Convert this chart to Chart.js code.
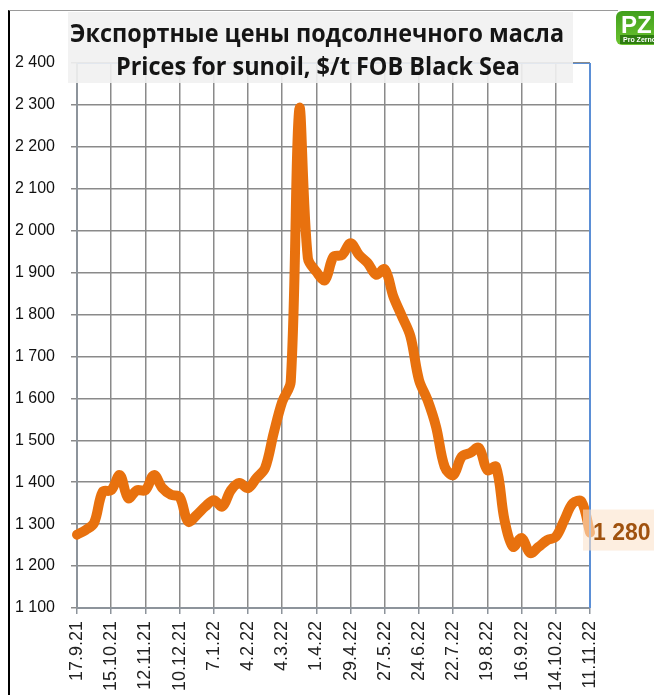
<!DOCTYPE html>
<html>
<head>
<meta charset="utf-8">
<script src="https://cdn.jsdelivr.net/npm/chart.js@4.4.1/dist/chart.umd.min.js"></script>
<style>
  html, body { margin: 0; padding: 0; background: #fff; overflow: hidden; }
  #wrap { position: relative; width: 654px; height: 695px; overflow: hidden; }
  #frame { position: absolute; left: 8px; top: 10px; width: 608px; height: 700px;
           border-top: 1px solid #9a9a9a; border-left: 2px solid #000; }
  canvas { position: absolute; left: 0; top: 0; }
</style>
</head>
<body>
<div id="wrap">
  <div id="frame"></div>
  <canvas id="chart" width="654" height="720"></canvas>
</div>
<script>
// Заголовок
const titleLines = ['Экспортные цены подсолнечного масла', 'Prices for sunoil, $/t FOB Black Sea'];

// подписи оси X (каждые 4 недели)
const tickLabels = ['17.9.21', '15.10.21', '12.11.21', '10.12.21', '7.1.22', '4.2.22', '4.3.22', '1.4.22',
                    '29.4.22', '27.5.22', '24.6.22', '22.7.22', '19.8.22', '16.9.22', '14.10.22', '11.11.22'];

// недельные цены, $/т
const prices = [
    1275, 1286, 1303, 1377, 1381, 1417, 1362, 1381, 1381, 1417,
    1386, 1370, 1365, 1306, 1322, 1342, 1357, 1342, 1381, 1398,
    1386, 1410, 1434, 1517, 1592, 1640, 2290, 1935, 1902, 1882,
    1938, 1942, 1970, 1942, 1923, 1895, 1908, 1843, 1796, 1748,
    1644, 1596, 1532, 1437, 1417, 1461, 1470, 1482, 1429, 1437,
    1310, 1246, 1267, 1231, 1246, 1262, 1270, 1310, 1350, 1354,
    1280
];

const lineColor = '#e8710e';
const gridColor = '#8a8a8a';
const axisColor = '#8d949b';

function fmt(v) {
    return String(v).replace(/\B(?=(\d{3})+(?!\d))/g, ' ');
}

const decor = {
    id: 'decor',
    afterDatasetsDraw(chart) {
        const ctx = chart.ctx;
        const a = chart.chartArea;
        ctx.save();

        // синяя рамка сверху и справа
        ctx.strokeStyle = '#5b8fd6';
        ctx.lineWidth = 1;
        ctx.beginPath();
        ctx.moveTo(a.left, a.top + 0.5);
        ctx.lineTo(a.right, a.top + 0.5);
        ctx.stroke();
        ctx.lineWidth = 2;
        ctx.beginPath();
        ctx.moveTo(a.right, a.top);
        ctx.lineTo(a.right, a.bottom);
        ctx.stroke();

        // подпись последнего значения
        const last = prices[prices.length - 1];
        const yLast = chart.scales.y.getPixelForValue(last);
        ctx.fillStyle = 'rgba(252, 226, 204, 0.6)';
        ctx.fillRect(a.right - 7, yLast - 23, 80, 41);
        ctx.fillStyle = '#a0520f';
        ctx.font = 'bold 23px "Liberation Sans", Arial, sans-serif';
        ctx.textAlign = 'left';
        ctx.textBaseline = 'middle';
        ctx.fillText(fmt(last), a.right + 3, yLast + 1);

        // блок заголовка
        ctx.fillStyle = 'rgba(241, 241, 241, 0.9)';
        ctx.fillRect(68, 12, 505, 71);
        ctx.fillStyle = '#151515';
        ctx.font = 'bold 25px "Open Sans", sans-serif';
        ctx.textAlign = 'center';
        ctx.textBaseline = 'alphabetic';
        ctx.fillText(titleLines[0], 317, 42, 494);
        ctx.fillText(titleLines[1], 318, 75, 404);

        // логотип
        const g = ctx.createLinearGradient(0, 10, 0, 45);
        g.addColorStop(0, '#3f9e1c');
        g.addColorStop(1, '#6cc430');
        ctx.fillStyle = g;
        ctx.beginPath();
        ctx.roundRect(616, 11, 50, 34, 6);
        ctx.fill();
        ctx.fillStyle = '#fff';
        ctx.font = 'bold 24px "Liberation Sans", sans-serif';
        ctx.textAlign = 'left';
        ctx.fillText('PZ', 621, 33);
        ctx.fillStyle = '#2e7d10';
        ctx.fillRect(620, 35, 40, 9);
        ctx.fillStyle = '#fff';
        ctx.font = 'bold 7px "Liberation Sans", sans-serif';
        ctx.fillText('Pro Zerno', 623, 42);

        ctx.restore();
    }
};

new Chart(document.getElementById('chart'), {
    type: 'line',
    data: {
        datasets: [{
            data: prices.map((v, i) => ({ x: i, y: v })),
            borderColor: lineColor,
            borderWidth: 10,
            tension: 0.35,
            pointRadius: 0,
            borderCapStyle: 'round',
            borderJoinStyle: 'round',
            fill: false,
            clip: false
        }]
    },
    options: {
        responsive: false,
        animation: false,
        layout: { padding: { top: 63, right: 64, left: 0, bottom: 0 } },
        plugins: { legend: { display: false }, tooltip: { enabled: false } },
        scales: {
            x: {
                type: 'linear',
                min: 0,
                max: 60,
                afterFit: s => { s.height = 112; },
                afterBuildTicks: s => { s.ticks = tickLabels.map((t, i) => ({ value: i * 4 })); },
                ticks: {
                    autoSkip: false,
                    minRotation: 90,
                    maxRotation: 90,
                    padding: 7,
                    color: '#222',
                    font: { family: '"Liberation Sans", Arial, sans-serif', size: 18 },
                    callback: v => tickLabels[Math.round(v / 4)]
                },
                grid: {
                    color: gridColor,
                    lineWidth: 1.5,
                    borderDash: [1.5, 2.5],
                    tickLength: 6,
                    tickColor: axisColor,
                    tickWidth: 1.5,
                    tickBorderDash: []
                },
                border: { color: axisColor, width: 2 }
            },
            y: {
                min: 1100,
                max: 2400,
                afterFit: s => { s.width = 77; },
                ticks: {
                    stepSize: 100,
                    padding: 16,
                    color: '#111',
                    font: { family: '"Liberation Sans", Arial, sans-serif', size: 16 },
                    callback: v => fmt(v)
                },
                grid: {
                    color: gridColor,
                    lineWidth: 1.5,
                    borderDash: [1.5, 2.5],
                    tickLength: 6
                },
                border: { color: axisColor, width: 2 }
            }
        }
    },
    plugins: [decor]
});
</script>
</body>
</html>
